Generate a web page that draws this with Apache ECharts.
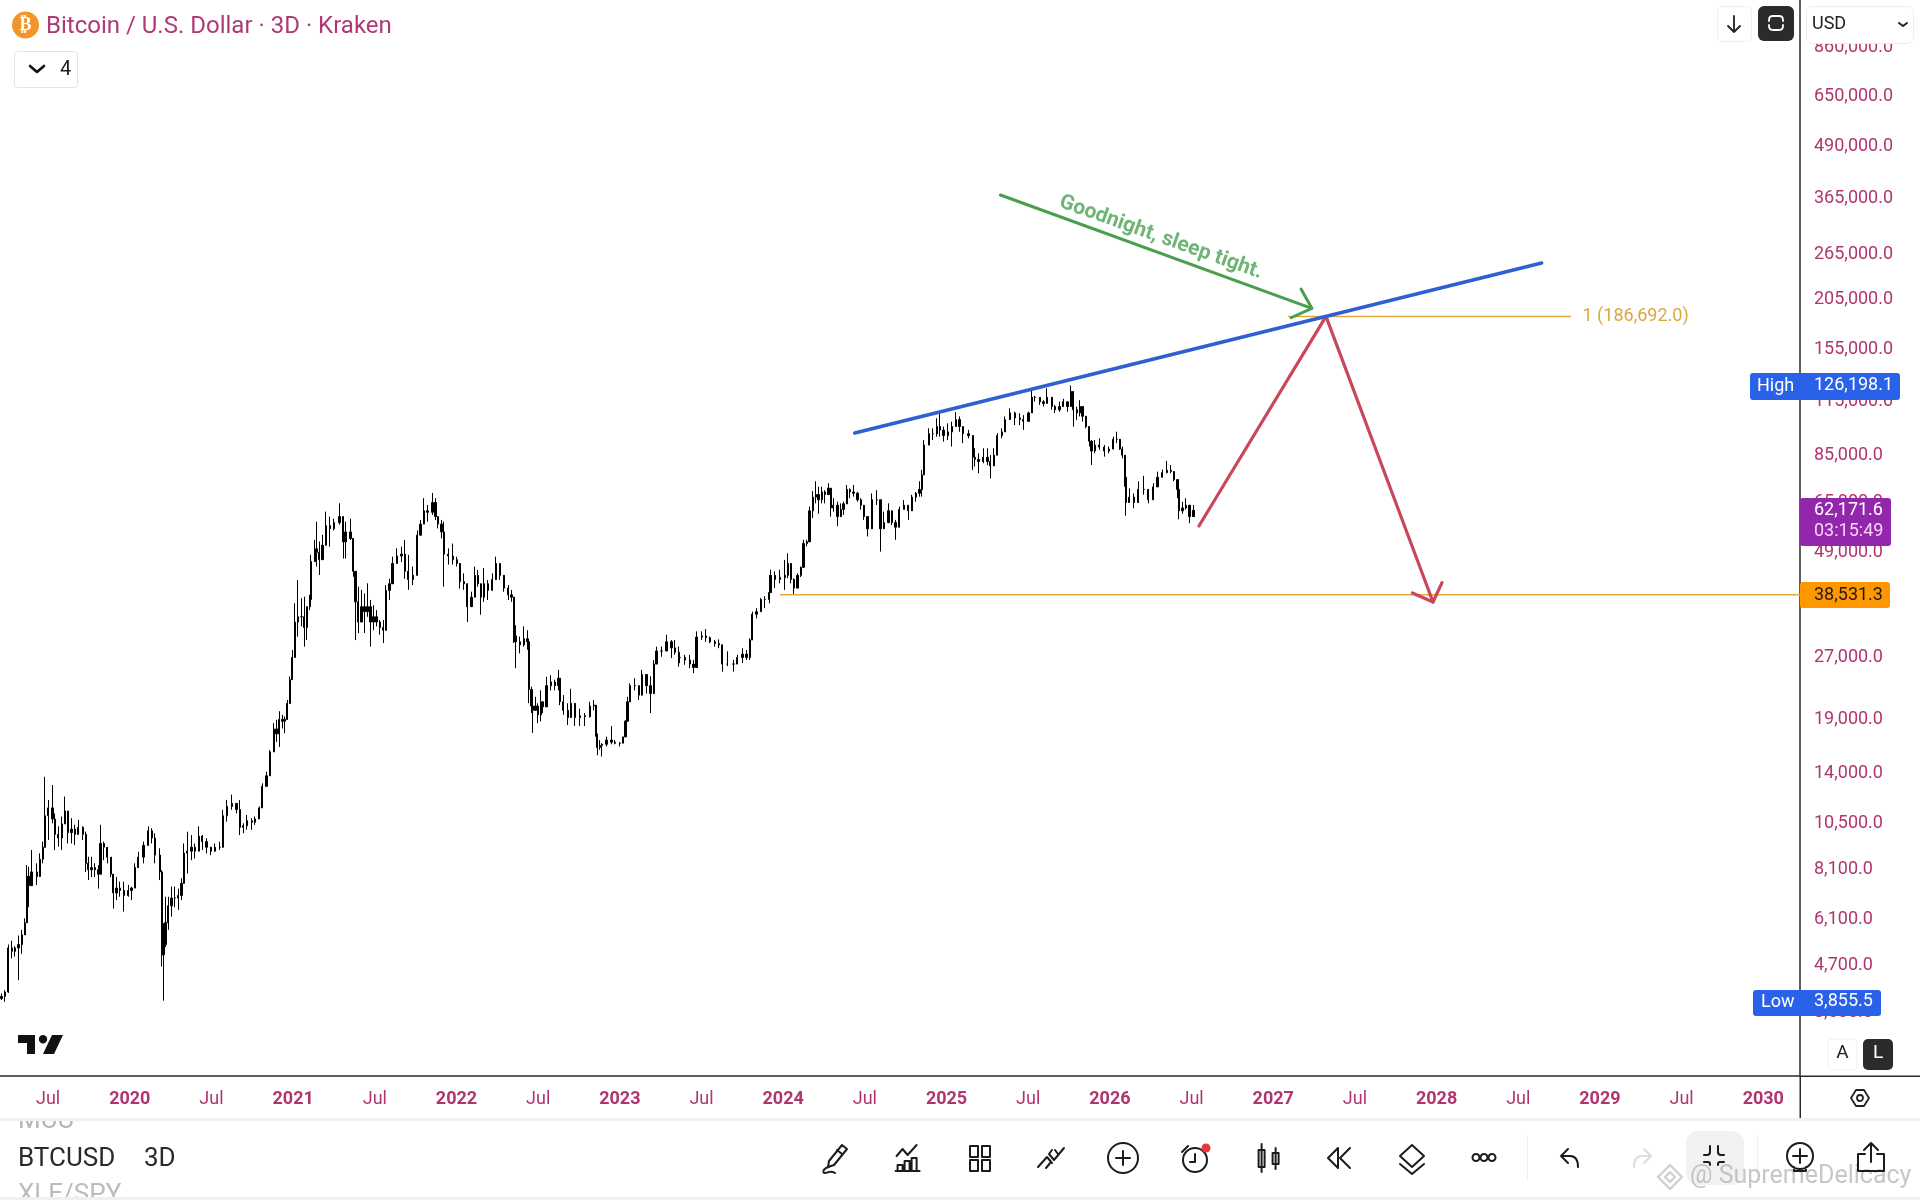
<!DOCTYPE html>
<html><head><meta charset="utf-8"><title>Bitcoin / U.S. Dollar</title>
<style>html,body{margin:0;padding:0;background:#fff}#c{width:1920px;height:1200px}</style>
<script src="https://cdn.jsdelivr.net/npm/echarts@6/dist/echarts.min.js"></script></head><body><div id="c"></div>
<script>
const years=[2019.215,2019.236,2019.256,2019.277,2019.297,2019.318,2019.338,2019.358,2019.369,2019.379,2019.399,2019.430,2019.450,2019.467,2019.481,2019.501,2019.526,2019.542,2019.562,2019.583,2019.603,2019.623,2019.644,2019.664,2019.685,2019.715,2019.730,2019.746,2019.766,2019.787,2019.807,2019.821,2019.842,2019.862,2019.883,2019.899,2019.919,2019.940,2019.966,2019.991,
2020.011,2020.032,2020.052,2020.083,2020.113,2020.134,2020.154,2020.185,2020.195,2020.207,2020.219,2020.236,2020.256,2020.276,2020.297,2020.317,2020.331,2020.352,2020.378,2020.399,2020.423,2020.444,2020.470,2020.495,2020.521,2020.552,2020.572,2020.593,2020.627,2020.654,2020.674,2020.695,2020.719,2020.746,2020.766,2020.793,2020.811,2020.837,2020.858,2020.882,2020.899,2020.915,2020.935,2020.950,2020.964,2020.981,2020.995,
2021.011,2021.028,2021.052,2021.068,2021.083,2021.103,2021.109,2021.134,2021.144,2021.160,2021.179,2021.199,2021.225,2021.250,2021.283,2021.307,2021.321,2021.352,2021.368,2021.382,2021.399,2021.419,2021.436,2021.456,2021.474,2021.491,2021.511,2021.531,2021.552,2021.568,2021.589,2021.609,2021.637,2021.664,2021.684,2021.705,2021.735,2021.760,2021.780,2021.801,2021.823,2021.854,2021.872,2021.888,2021.909,2021.925,2021.950,2021.980,
2022.001,2022.021,2022.045,2022.066,2022.092,2022.113,2022.133,2022.150,2022.168,2022.194,2022.219,2022.241,2022.266,2022.290,2022.317,2022.337,2022.351,2022.362,2022.388,2022.413,2022.435,2022.445,2022.460,2022.466,2022.484,2022.500,2022.517,2022.531,2022.551,2022.578,2022.602,2022.623,2022.633,2022.654,2022.684,2022.700,2022.725,2022.755,2022.786,2022.817,2022.843,2022.853,2022.862,2022.878,2022.892,2022.919,2022.949,2022.970,
2023.000,2023.021,2023.035,2023.047,2023.061,2023.092,2023.116,2023.137,2023.163,2023.188,2023.208,2023.225,2023.255,2023.286,2023.316,2023.337,2023.361,2023.368,2023.399,2023.430,2023.450,2023.470,2023.501,2023.527,2023.552,2023.582,2023.607,2023.627,2023.658,2023.695,2023.719,2023.750,2023.776,2023.797,2023.811,2023.837,2023.862,2023.888,2023.915,2023.923,2023.950,2023.980,
2024.011,2024.030,2024.048,2024.065,2024.087,2024.107,2024.124,2024.144,2024.161,2024.181,2024.199,2024.216,2024.236,2024.256,2024.277,2024.291,2024.307,2024.332,2024.352,2024.369,2024.389,2024.409,2024.430,2024.454,2024.475,2024.495,2024.517,2024.542,2024.573,2024.595,2024.618,2024.644,2024.664,2024.687,2024.711,2024.740,2024.766,2024.787,2024.813,2024.834,2024.848,2024.862,2024.893,2024.915,2024.940,2024.960,2024.981,
2025.007,2025.032,2025.056,2025.079,2025.099,2025.134,2025.160,2025.175,2025.195,2025.225,2025.250,2025.268,2025.291,2025.311,2025.338,2025.358,2025.389,2025.419,2025.450,2025.470,2025.501,2025.521,2025.542,2025.572,2025.593,2025.613,2025.644,2025.664,2025.691,2025.715,2025.740,2025.760,2025.776,2025.797,2025.817,2025.833,2025.854,2025.874,2025.888,2025.909,2025.935,2025.966,2025.995,
2026.021,2026.042,2026.062,2026.076,2026.092,2026.100,2026.119,2026.148,2026.174,2026.209,2026.235,2026.266,2026.291,2026.321,2026.348,2026.372,2026.393,2026.413,2026.423,2026.444,2026.464,2026.487,2026.511];
const highs=[4017,4090,5300,5420,5250,5580,5760,6150,8320,8240,9060,8400,8890,9500,13720,12030,13100,11150,10360,10950,12270,10950,10850,10450,10750,10360,10050,8720,8720,8400,8320,10450,9500,9060,8400,7860,7770,7570,7570,7430,
7360,8400,8970,9500,10360,10250,9960,9150,8080,5980,6950,6950,7360,7360,7280,7720,9400,10050,9860,9400,10360,9860,9680,9230,9400,9500,11380,12030,12400,11800,12030,10540,11050,10850,10950,11600,13220,14120,15970,18600,18950,19900,19490,19300,21210,24220,28170,
36700,41880,37770,38100,36000,38500,48300,52560,58300,52100,54100,61700,60000,59300,64700,58860,58300,59300,51000,42650,40330,39600,38800,41100,37400,36300,35300,33390,33390,40700,42200,47800,50100,50600,52560,48300,45200,55500,58860,66600,64100,68600,66600,60000,58860,58300,50100,51500,
47800,45200,43500,39600,39200,45200,44330,40330,44800,41900,43500,47800,46000,42650,40700,39600,35300,32400,30380,32200,31500,28200,22880,21200,21600,20820,22400,20820,24200,24400,23800,25150,21600,21800,20820,22600,19800,20200,19700,21000,21200,18600,17000,16900,16600,17230,18300,16900,
16700,17230,18940,21600,23300,24000,22880,25150,24000,24250,26600,28700,28700,30700,29800,29800,28700,27660,27400,27400,26620,31300,31300,31700,30400,29800,29900,28450,27950,26620,27400,28450,28150,30100,35000,35700,37800,38200,39600,44400,44000,44400,
46930,48700,43500,42300,43500,45200,52600,52600,63500,69300,73300,71100,71100,69700,72500,67200,66600,65300,64700,65300,71800,70400,71800,69000,66600,63500,59500,68400,69700,65300,61700,64700,61000,58900,63500,65900,64100,67900,69000,73300,78200,92600,99000,99000,104800,108000,99900,
101800,102800,108500,105900,99000,98100,95300,88400,85900,88400,88400,85100,88400,96300,99000,105900,110900,108800,107800,106700,108800,122900,119000,118000,116100,124200,116100,113000,115200,117000,114100,126198,114100,111900,116100,110000,105900,96300,92600,92600,93500,90000,89300,
94400,97100,90000,89300,78900,72500,70400,68400,73300,75600,69000,72500,77400,78400,82300,80300,75900,73900,66600,65300,66600,62400,64100];
const lows=[3870,3830,4030,4900,4950,4330,5030,5650,6630,6550,7500,7430,7770,8400,9590,9590,10540,9060,9230,9060,10750,9400,9400,9320,9960,9590,8000,7640,7770,7770,7280,8080,8550,8400,7770,6500,6820,6950,6390,6950,
6820,7640,8240,8400,9400,9400,8400,7640,4680,3856,5230,5760,6210,6550,6450,6820,7930,7930,8550,8630,9320,9060,8890,8800,8970,9060,9590,10640,11380,11150,9860,9960,10160,10160,10450,11150,11800,13100,14120,15970,16720,16250,18050,17560,19300,22000,25620,
28170,30380,32200,28700,29800,35300,40330,47800,45200,43100,48700,52560,50600,55500,57300,47300,47300,52560,42650,29800,31000,34400,31000,34000,28700,31500,32200,30700,29300,36300,37400,42650,46000,46400,42200,39600,40700,47800,54100,58300,58300,60600,58860,56100,53000,40330,45700,45700,
45200,39900,39600,33000,36300,40330,40330,34400,37000,37400,40330,44330,41900,39200,37400,37000,29300,25400,27640,28700,28200,20820,19700,17600,20000,18600,18800,19700,20820,22400,22400,22400,20600,19500,18400,20400,18300,18300,18300,19200,20000,17230,15500,16000,15400,16300,16500,16500,
16300,16600,17900,20200,21600,22400,21200,23100,22000,19700,23800,26400,27100,28700,26900,27400,25620,26130,25900,25400,24700,28150,29800,29500,29260,28700,28450,24900,25700,24900,26130,26130,26620,26620,29800,33700,35000,35700,36700,39600,40000,41100,
39600,42300,41100,38500,41900,42600,46000,50700,54600,59500,64700,61000,64700,64700,67900,60000,61700,56800,60600,60600,66600,66600,67200,65300,62400,58900,53600,60000,64100,49200,56000,57800,57200,52600,58900,62400,58900,64700,65300,67200,67200,78200,91000,92600,94400,94400,91800,
92600,89300,99900,97100,91000,93500,78200,79700,76700,81200,80400,74500,82700,87600,93500,99900,104800,100800,100800,98100,104800,108800,115200,113000,112000,114100,110000,108000,108800,112000,108800,114100,99900,103800,105900,102800,99000,89300,80400,85900,87600,84300,85900,
89300,91000,87600,83500,71100,60300,65300,62900,65300,67900,64700,67900,72500,75300,76700,76700,73300,66600,59100,61000,62400,57800,61000];
const closes=[3950,4050,5200,5100,5200,5300,5600,6000,7800,7400,8000,7800,8600,9200,11000,11500,10800,9900,9700,10500,11300,10000,10200,9900,10300,9900,8400,8100,8200,8100,7900,9400,9200,8700,7900,7100,7300,7200,7000,7200,
7300,8200,8700,9300,10100,9700,8800,8000,5000,5300,6000,6600,6900,6900,7000,7500,8900,9000,9200,9000,9800,9500,9200,9000,9200,9200,11000,11600,11800,11400,10300,10400,10700,10600,10800,11500,13000,13800,15800,18000,17500,19000,18800,19000,20800,23800,27000,
33000,34000,34000,32000,36000,37500,46500,50000,49000,47000,51000,57000,56000,58000,60000,52000,55000,53000,44000,37000,33000,36000,35000,36000,33000,34000,33000,32000,31500,39500,41000,46000,48000,48500,44000,42000,43000,54000,57500,62000,61500,65000,60000,57500,55000,48500,48000,47000,
46000,41500,41000,36000,38000,43000,41000,38000,41000,39500,42000,46000,43000,40000,38500,38000,30500,29500,29000,30000,29500,22500,20500,20000,20500,19500,21000,20400,23000,23500,23000,24000,21000,20000,19200,20800,19200,19400,19300,20500,20600,17500,16200,16400,16500,16900,16700,16600,
16600,17200,18800,21000,23000,23000,21800,24500,23000,22000,26000,28000,28000,29500,28500,27800,27000,27000,26600,26000,25500,30300,30500,30200,29500,29200,29000,26000,26000,26000,27000,27500,27000,29800,34500,35000,37500,37500,39000,43000,42000,42500,
43000,46000,42000,40000,43000,45000,51500,52000,62000,67000,68000,66000,69000,68000,70500,63000,64000,60000,62500,64500,70000,69000,68500,66000,64000,60000,56000,66000,66000,56000,58000,62000,58000,56500,62500,64000,62000,67000,68500,70000,76000,90000,96000,96000,100000,98000,95000,
97000,100000,104000,100000,96000,95000,84000,83000,82000,84000,82000,80000,85000,95000,97000,104000,108000,105000,104000,103000,108000,118000,118000,115000,114000,118000,112000,110000,112000,115000,112000,122000,110000,108000,112000,106000,100000,92000,87000,90000,89000,87000,88000,
93000,93000,88000,85000,75000,65000,67000,65000,70000,70000,66000,71000,75000,77000,78000,77500,74000,70000,62000,63000,64000,60000,62172];
const firstOpen=3900;

const yTickValues=[860000,650000,490000,365000,265000,205000,155000,115000,85000,65000,49000,27000,19000,14000,10500,8100,6100,4700,3600];
const xTickYears=[2019.5,2020,2020.5,2021,2021.5,2022,2022.5,2023,2023.5,2024,2024.5,2025,2025.5,2026,2026.5,2027,2027.5,2028,2028.5,2029,2029.5,2030];
const xTickLabels=['Jul','2020','Jul','2021','Jul','2022','Jul','2023','Jul','2024','Jul','2025','Jul','2026','Jul','2027','Jul','2028','Jul','2029','Jul','2030'];

const trendYears=[2024.438,2028.643], trendPrices=[96400,252700];
const redYears=[2026.545,2027.323,2027.978], redPrices=[56900,186692,36970];
const redHeadYears=[2027.852,2027.978,2028.033], redHeadPrices=[38900,36970,41250];
const greenYears=[2025.330,2027.236], greenPrices=[371700,195500];
const greenHeadYears=[2027.170,2027.236,2027.109], greenHeadPrices=[218100,195500,185300];
const fibYears=[2027.094,2028.82], fibPrice=186692;
const supportYears=[2023.983,2030.2247], supportPrice=38531.3;
const noteYear=2026.312, notePrice=292000, noteText='Goodnight, sleep tight.';

const INK='#b0356f', FONT='Roboto';
const zip=(a,b)=>a.map((v,i)=>[v,b[i]]);
const candles=years.map((t,i)=>[t,i?closes[i-1]:firstOpen,closes[i],lows[i],highs[i]]);
const fmt=v=>v.toLocaleString('en-US',{minimumFractionDigits:1,maximumFractionDigits:1});

function line(a,b,color,width,extra){return Object.assign({type:'line',data:zip(a,b),symbol:'none',silent:true,z:5,
  lineStyle:{color,width,cap:'round',join:'round'},animation:false},extra||{});}

const G=[];let shapeId=0;
function rect(x,y,w,h,fill,r,stroke){G.push({type:'rect',z:100,shape:{x,y,width:w,height:h,r:r||0},style:{fill,stroke:stroke||null,lineWidth:stroke?1:0},silent:true});}
function txt(x,y,s,fill,size,o){o=o||{};G.push({type:'text',z:100,x,y:y+1.5,silent:true,style:{text:s,fill,font:(o.weight||'400')+' '+size+'px '+(o.family||FONT),textAlign:o.align||'left',textVerticalAlign:'middle'}});}
function pathEl(x,y,d,style){const name='ic'+(shapeId++);echarts.graphic.registerShape(name,echarts.graphic.extendPath(d));
  G.push({type:name,z:101,x,y,silent:true,style});}
function icon(cx,cy,d,stroke,lw){pathEl(cx-16,cy-16,d,{fill:'none',stroke:stroke===undefined?'#1c1c1c':stroke,lineWidth:lw||2,lineCap:'round',lineJoin:'round'});}

// axis extensions
rect(1800,1075.5,120,1.5,'#2a2a2a');
rect(1799.5,1076,1.5,42,'#2a2a2a');
// top-left
G.push({type:'circle',z:100,silent:true,shape:{cx:25.5,cy:25,r:13.5},style:{fill:'#f2962b'}});
txt(25.5,24,'₿','#fff',18,{family:'DejaVu Sans',weight:'700',align:'center'});
txt(46,25,'Bitcoin / U.S. Dollar · 3D · Kraken','#ad3a74',24);
rect(14.5,51.5,63,36,'#fff',3,'#e4e4e4');
icon(37,69,'M9 13l7 6 7-6','#111',2.6);
txt(60,68,'4','#222',20);
// top-right
rect(1717.5,6.5,34,35,'#fff',5,'#eeeeee');
icon(1734,24,'M16 8v16M10 18l6 6 6-6','#222',1.8);
rect(1758,6,36,35,'#2b2b2b',6);
icon(1776,23,'M9 14v-1c0-3 2-4 4-4h6c2 0 4 1 4 4v1M9 18v1c0 3 2 4 4 4h6c2 0 4-1 4-4v-1','#fff',1.8);
rect(1806.5,6.5,107,37,'#fff',6,'#eeeeee');
txt(1812,23,'USD','#222',18);
icon(1903,25,'M12 14l4 3 4-3','#222',2);
// bottom panel
txt(18,1120,'MUU','#b5b5b5',26);
rect(0,1106,300,12,'#fff');
txt(18,1158,'BTCUSD','#2a2a2a',26);
txt(144,1158,'3D','#2a2a2a',26);
txt(18,1194,'XLE/SPY','#bcbcbc',26);
rect(0,1118,1920,3,'#f0f0f0');
rect(0,1197,1920,3,'#f0f0f0');
// TradingView logo
pathEl(18,1032,'M0 3h17v19h-8v-11h-9z M25 3a4.2 4.2 0 1 0 .01 0z M34 3h11l-9 19h-11z',{fill:'#111',stroke:null});
// price tags
rect(1750,373,150,27,'#2962e8',3);
txt(1757,385,'High','#fff',18); txt(1814,384,'126,198.1','#fff',18);
rect(1800,498,91,48,'#9327ac',3);
txt(1814,509,'62,171.6','#fff',18); txt(1814,530,'03:15:49','#f7d3fb',18);
rect(1800,582,90,26,'#ff9800',3);
txt(1814,593.5,'38,531.3','#231a10',18);
rect(1753,990,128,26,'#2962e8',3);
txt(1761,1001,'Low','#fff',18); txt(1814,1000,'3,855.5','#fff',18);
rect(1828,1039,29,31,'#fff',4,'#f0f0f0');
txt(1842.5,1052,'A','#222',19,{align:'center'});
rect(1863,1039,30,31,'#2b2b2b',5);
txt(1878,1052,'L','#fff',19,{align:'center'});
icon(1860,1098,'M7 16l5-8h8l5 8-5 8h-8z M16 13a3 3 0 1 0 .01 0z','#222',1.8);
// toolbar
const ty=1158;
icon(836,ty,'M22 3l5 4-13 16-6 2 1-6z M17 8l5 4 M9 25c-6 1-7 6-4 6 3 0 5-3 10 0','#1c1c1c',2);
icon(908.6,ty,'M4 14l6-7 5 6 9-10 M5 29v-6h5v6z M12 29v-10h5v10z M19 29v-13h5v13z M3 29h24','#1c1c1c',2);
icon(980,ty,'M6 4h8v11h-8z M18 4h8v11h-8z M6 18h8v11h-8z M18 18h8v11h-8z','#1c1c1c',2);
icon(1051,ty,'M3 25l9-10 5 6 M11 26l5-6 M14 12l5 6 10-12 M20 8l3 4 M14 12l3-4','#1c1c1c',2);
icon(1123,ty,'M16 1a15 15 0 1 0 .01 0z M16 9v14 M9 16h14','#1c1c1c',2);
icon(1195,ty,'M16 6a12 12 0 1 0 .01 0z M16 12v8h-5 M3 10l6-6','#1c1c1c',2);
G.push({type:'circle',z:102,silent:true,shape:{cx:1206,cy:1148,r:4.5},style:{fill:'#e53935'}});
icon(1268.6,ty,'M9 2v28 M6 8h6v17h-6z M23 6v21 M20 11h6v11h-6z','#1c1c1c',2);
icon(1340,ty,'M14 6l-10 10 10 10z M26 6l-10 10 10 10','#1c1c1c',2);
icon(1412,ty,'M16 3l12 11-12 11-12-11z M4 22l12 10 12-10','#1c1c1c',2);
icon(1484,ty,'M8 12a3.5 3.5 0 1 0 .01 0z M16 12a3.5 3.5 0 1 0 .01 0z M24 12a3.5 3.5 0 1 0 .01 0z','#1c1c1c',2);
rect(1527,1135,1,46,'#eeeeee');
icon(1570,ty,'M14 7l-7 7 7 7 M7 14h9c5 0 8 4 8 11','#1c1c1c',2);
icon(1642,ty,'M18 7l7 7-7 7 M25 14h-9c-5 0-8 4-8 11','#dddddd',2);
rect(1686,1131,58,54,'#f2f2f2',12);
icon(1714,ty,'M12 4v6c0 2-1 3-3 3h-3 M20 4v6c0 2 1 3 3 3h3 M6 20h4c1 0 2 1 2 2v1 M26 20h-4c-1 0-2 1-2 2v1','#1c1c1c',2);
rect(1757,1135,1,46,'#eeeeee');
icon(1800,ty,'M16 1a13 13 0 1 0 .01 0z M16 7v14 M9 14h14 M10 25v4h12v-4','#1c1c1c',2);
icon(1871,ty,'M16 20v-18 M9 8l7-7 7 7 M10 12h-7v17h26v-17h-7','#1c1c1c',2);
// watermark
icon(1670,1177,'M16 4l12 12-12 12-12-12z M16 11l5 5-5 5-5-5z','rgba(170,170,170,.55)',2.4);
txt(1690,1175,'@ SupremeDelicacy','rgba(165,165,165,.62)',25);

const opt={
  animation:false,backgroundColor:'#fff',
  grid:{left:0,top:0,right:120,bottom:124,containLabel:false},
  xAxis:{type:'value',min:2019.2054,max:2030.2247,splitLine:{show:false},
    axisLine:{show:true,onZero:false,lineStyle:{color:'#2a2a2a',width:1.5}},axisTick:{show:false},
    axisLabel:{customValues:xTickYears,margin:14,color:INK,fontFamily:FONT,fontSize:18,hideOverlap:false,showMinLabel:true,showMaxLabel:true,
      formatter:v=>{const s=xTickLabels[xTickYears.indexOf(v)];return s==='Jul'?s:'{y|'+s+'}';},
      rich:{y:{fontWeight:700,fontSize:18,color:INK,fontFamily:FONT}}}},
  yAxis:{type:'log',logBase:10,position:'right',min:2515,max:1123000,splitLine:{show:false},
    axisLine:{show:true,onZero:false,lineStyle:{color:'#2a2a2a',width:1.5}},axisTick:{show:false},
    axisLabel:{customValues:yTickValues,margin:14,color:INK,fontFamily:FONT,fontSize:18,align:'left',padding:[3,0,0,0],hideOverlap:false,formatter:v=>fmt(v)}},
  series:[
    {type:'candlestick',data:candles,encode:{x:0,y:[1,2,3,4]},barWidth:1.8,silent:true,clip:true,z:2,
      itemStyle:{color:'#000',color0:'#000',borderColor:'#000',borderColor0:'#000',borderColorDoji:'#000',borderWidth:1}},
    line(supportYears,[supportPrice,supportPrice],'#e3a93c',1.4),
    line(fibYears,[fibPrice,fibPrice],'#e3a93c',1.4,{endLabel:{show:true,distance:12,color:'#dba73f',fontFamily:FONT,fontSize:18,formatter:'1 (186,692.0)'}}),
    line(trendYears,trendPrices,'#2f5fd0',3.6,{z:6}),
    line(greenYears,greenPrices,'#4a9f4e',3),
    line(greenHeadYears,greenHeadPrices,'#4a9f4e',3),
    line(redYears,redPrices,'#c8485a',3.2),
    line(redHeadYears,redHeadPrices,'#c8485a',3.2),
    {type:'scatter',data:[[noteYear,notePrice]],symbolSize:1,itemStyle:{color:'rgba(0,0,0,0)'},silent:true,z:7,
      label:{show:true,position:'inside',rotate:-19.6,formatter:noteText,color:'#4ba153',fontFamily:FONT,fontWeight:700,fontSize:21}}
  ],
  graphic:{elements:G}
};
echarts.init(document.getElementById('c')).setOption(opt);
</script></body></html>
